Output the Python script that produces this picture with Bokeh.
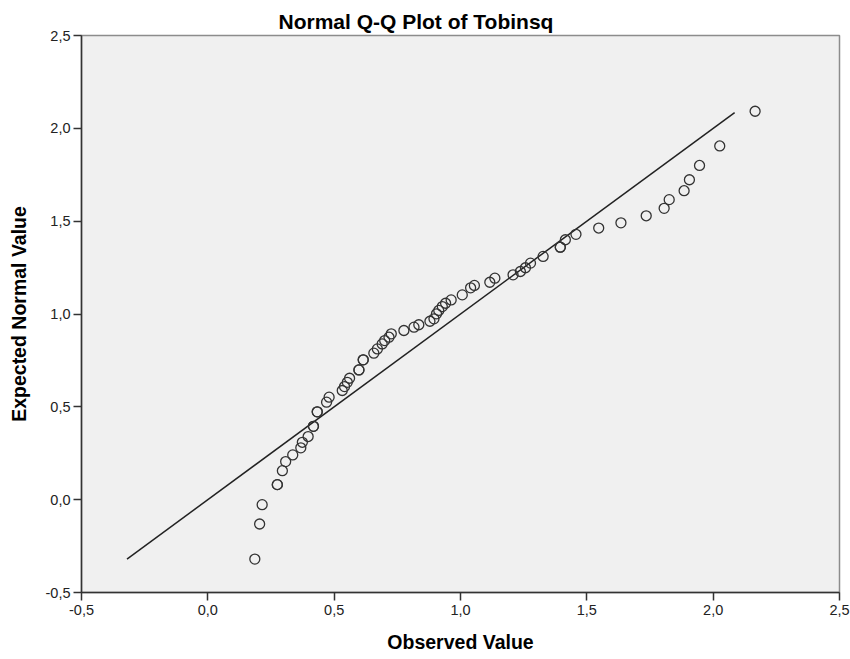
from bokeh.plotting import figure
from bokeh.models import Range1d, FixedTicker, ColumnDataSource
from bokeh.embed import file_html
from bokeh.resources import INLINE

# Observed Tobinsq values and their expected normal values
observed = [0.186, 0.205, 0.215, 0.275, 0.275, 0.295, 0.308, 0.336, 0.368, 0.374,
            0.397, 0.418, 0.418, 0.433, 0.433, 0.470, 0.480, 0.532, 0.541, 0.552,
            0.561, 0.598, 0.598, 0.615, 0.615, 0.657, 0.671, 0.690, 0.700, 0.717,
            0.726, 0.776, 0.816, 0.835, 0.879, 0.895, 0.905, 0.914, 0.928, 0.941,
            0.963, 1.007, 1.040, 1.055, 1.116, 1.136, 1.208, 1.237, 1.257, 1.277,
            1.327, 1.395, 1.395, 1.415, 1.457, 1.547, 1.635, 1.735, 1.806, 1.826,
            1.885, 1.906, 1.946, 2.026, 2.166]
expected = [-0.320, -0.131, -0.027, 0.081, 0.081, 0.156, 0.205, 0.241, 0.279, 0.309,
            0.340, 0.395, 0.395, 0.473, 0.473, 0.525, 0.552, 0.588, 0.609, 0.632,
            0.654, 0.699, 0.699, 0.753, 0.753, 0.789, 0.812, 0.839, 0.857, 0.875,
            0.893, 0.911, 0.929, 0.942, 0.961, 0.974, 1.001, 1.019, 1.040, 1.058,
            1.076, 1.103, 1.141, 1.154, 1.171, 1.193, 1.211, 1.229, 1.249, 1.274,
            1.310, 1.360, 1.360, 1.400, 1.429, 1.463, 1.491, 1.529, 1.569, 1.616,
            1.664, 1.723, 1.800, 1.905, 2.092]

# Reference line y = x between these end points
line_ends = [-0.32, 2.085]

tick_values = [-0.5, 0.0, 0.5, 1.0, 1.5, 2.0, 2.5]
tick_labels = ["-0,5", "0,0", "0,5", "1,0", "1,5", "2,0", "2,5"]

FONT = "Liberation Sans"

p = figure(width=850, height=659, output_backend="svg", toolbar_location=None,
           x_range=Range1d(-0.5, 2.5), y_range=Range1d(-0.5, 2.5),
           min_border_left=81, min_border_right=11, min_border_top=35,
           min_border_bottom=67)

p.background_fill_color = "#f0f0f0"
p.border_fill_color = "white"
p.outline_line_color = "#8c8c8c"
p.outline_line_width = 1.5
p.grid.visible = False

p.title.text = "Normal Q-Q Plot of Tobinsq"
p.title.text_font = FONT
p.title.text_font_size = "21px"
p.title.text_font_style = "bold"
p.title.text_color = "black"
p.title.align = "left"
p.title.offset = 197
p.title.standoff = 5

for ax in (p.xaxis[0], p.yaxis[0]):
    ax.ticker = FixedTicker(ticks=tick_values)
    ax.major_label_overrides = dict(zip(tick_values, tick_labels))
    ax.major_label_text_font = FONT
    ax.major_label_text_font_size = "14.5px"
    ax.major_label_text_color = "#222222"
    ax.axis_label_text_font = FONT
    ax.axis_label_text_font_size = "19.5px"
    ax.axis_label_text_font_style = "bold"
    ax.axis_label_text_color = "black"
    ax.axis_line_color = "#333333"
    ax.axis_line_width = 1.5
    ax.major_tick_line_color = "#333333"
    ax.major_tick_line_width = 1.5
    ax.major_tick_out = 8
    ax.major_tick_in = 0
    ax.minor_tick_line_color = None
    ax.major_label_standoff = 4

p.xaxis.axis_label = "Observed Value"
p.xaxis.axis_label_standoff = 13
p.yaxis.axis_label = "Expected Normal Value"
p.yaxis.axis_label_standoff = 13
p.yaxis.major_label_standoff = 3

p.line(x=line_ends, y=line_ends, line_color="#222222", line_width=1.5)

src = ColumnDataSource(data=dict(x=observed, y=expected))
p.scatter("x", "y", source=src, marker="circle", size=10, fill_color=None,
          line_color="#333333", line_width=1.3)

open("out.html", "w").write(file_html(p, INLINE))
